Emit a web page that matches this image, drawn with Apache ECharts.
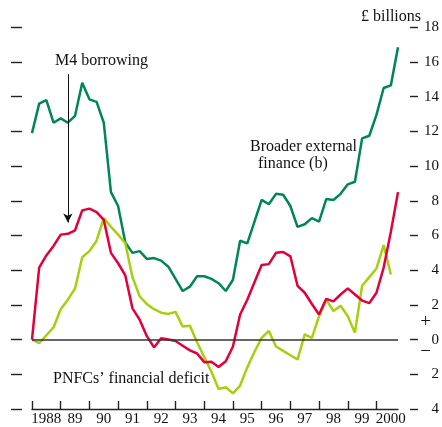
<!DOCTYPE html>
<html>
<head>
<meta charset="utf-8">
<script src="https://cdn.jsdelivr.net/npm/echarts@6/dist/echarts.min.js"></script>
<style>
html,body{margin:0;padding:0;background:#fff;}
#chart{width:442px;height:427px;}
</style>
</head>
<body>
<div id="chart"></div>
<script>
// Quarterly, 1988 Q1 .. 2000 Q4
const years = [1988,1989,1990,1991,1992,1993,1994,1995,1996,1997,1998,1999,2000];
const yearLabels = ['1988','89','90','91','92','93','94','95','96','97','98','99','2000'];
const quarters = [];
years.forEach(y => { for (let q = 1; q <= 4; q++) quarters.push(y + ' Q' + q); });

// £ billions
const broaderExternalFinance = [11.9,13.6,13.8,12.5,12.75,12.5,12.9,14.8,13.85,13.7,
  12.5,8.5,7.7,5.6,5.0,5.1,4.65,4.7,4.55,4.2,
  3.5,2.8,3.05,3.65,3.65,3.5,3.25,2.8,3.45,5.7,
  5.55,6.8,8.05,7.8,8.4,8.35,7.7,6.5,6.65,7.0,
  6.8,8.1,8.05,8.4,8.95,9.1,11.6,11.75,12.95,14.5,
  14.65,16.85];
const m4Borrowing = [0,4.15,4.85,5.4,6.05,6.1,6.3,7.45,7.55,7.35,
  6.9,5.0,4.4,3.7,1.8,1.15,0.2,-0.45,0.08,0.0,
  -0.08,-0.35,-0.62,-0.8,-1.3,-1.27,-1.58,-1.25,-0.4,1.45,
  2.3,3.3,4.3,4.35,5.0,5.05,4.8,3.1,2.7,2.05,
  1.45,2.35,2.2,2.6,2.95,2.6,2.25,2.1,2.7,4.15,
  6.2,8.5];
const pnfcDeficit = [0,-0.2,0.25,0.7,1.75,2.3,2.95,4.75,5.1,5.7,
  7.0,6.5,6.05,5.55,3.6,2.5,2.05,1.75,1.55,1.48,
  1.6,0.75,0.8,-0.15,-1.0,-1.85,-2.85,-2.75,-3.1,-2.65,
  -1.6,-0.7,0.1,0.5,-0.4,-0.65,-0.9,-1.15,0.3,0.1,
  1.35,2.3,1.65,1.95,1.35,0.4,3.1,3.6,4.1,5.45,
  3.75,null];

const FONT = "'Liberation Serif','Times New Roman',serif";
const chart = echarts.init(document.getElementById('chart'));
const yCommon = {
  type: 'value', min: -4, max: 18, interval: 2,
  splitLine: { show: false },
  axisLine: { show: false }
};
chart.setOption({
  animation: false,
  backgroundColor: '#fff',
  grid: { left: 32, right: 41.8, top: 27.3, bottom: 17.7, containLabel: false },
  xAxis: {
    type: 'category', data: quarters, boundaryGap: false,
    axisLine: { onZero: false, lineStyle: { color: '#222', width: 1.4 } },
    axisTick: { inside: true, length: 8, interval: (i) => i % 4 === 0, lineStyle: { color: '#222', width: 1.4 } },
    axisLabel: { interval: (i) => i % 4 === 2, formatter: (v, i) => yearLabels[Math.floor(i / 4)],
      margin: 3, color: '#111', fontFamily: FONT, fontSize: 15 },
    splitLine: { show: false }
  },
  yAxis: [
    Object.assign({}, yCommon, { position: 'left', offset: 10,
      axisTick: { show: true, length: 11, lineStyle: { color: '#222', width: 1.4 } },
      axisLabel: { show: false } }),
    Object.assign({}, yCommon, { position: 'right', offset: 12,
      axisTick: { show: true, length: 8, lineStyle: { color: '#222', width: 1.4 } },
      axisLabel: { margin: 29, align: 'right', color: '#111', fontFamily: FONT, fontSize: 15,
        formatter: (v) => String(Math.abs(v)) } })
  ],
  series: [
    { name: 'Broader external finance (b)', type: 'line', data: broaderExternalFinance,
      showSymbol: false, lineStyle: { color: '#00855a', width: 2.5 }, itemStyle: { color: '#00855a' } },
    { name: 'PNFCs’ financial deficit', type: 'line', data: pnfcDeficit,
      showSymbol: false, lineStyle: { color: '#a6cf10', width: 2.5 }, itemStyle: { color: '#a6cf10' },
      markLine: { silent: true, symbol: ['none', 'none'], label: { show: false },
        lineStyle: { color: '#333', width: 1.5, type: 'solid' }, data: [{ yAxis: 0 }] } },
    { name: 'M4 borrowing', type: 'line', data: m4Borrowing,
      showSymbol: false, lineStyle: { color: '#e2003c', width: 2.5 }, itemStyle: { color: '#e2003c' },
      markLine: { silent: true, symbol: ['none', 'arrow'], symbolSize: [7, 9], label: { show: false },
        lineStyle: { color: '#111', width: 1, type: 'solid' },
        data: [[{ coord: [quarters[5], 15.3] }, { coord: [quarters[5], 6.75] }]] } }
  ],
  graphic: [
    { type: 'text', left: 361, top: 9, style: { text: '£ billions', font: '16px ' + FONT, fill: '#111' } },
    { type: 'text', left: 55, top: 53, style: { text: 'M4 borrowing', font: '16px ' + FONT, fill: '#111' } },
    { type: 'text', left: 250, top: 139, style: { text: 'Broader external', font: '16px ' + FONT, fill: '#111' } },
    { type: 'text', left: 258, top: 156, style: { text: 'finance (b)', font: '16px ' + FONT, fill: '#111' } },
    { type: 'text', left: 53, top: 371, style: { text: 'PNFCs’ financial deficit', font: '16px ' + FONT, fill: '#111' } },
    { type: 'text', x: 425.7, y: 322, style: { text: '+', font: '19px ' + FONT, fill: '#111', textAlign: 'center', textVerticalAlign: 'middle' } },
    { type: 'text', x: 425.7, y: 352, style: { text: '−', font: '19px ' + FONT, fill: '#111', textAlign: 'center', textVerticalAlign: 'middle' } }
  ]
});
</script>
</body>
</html>
